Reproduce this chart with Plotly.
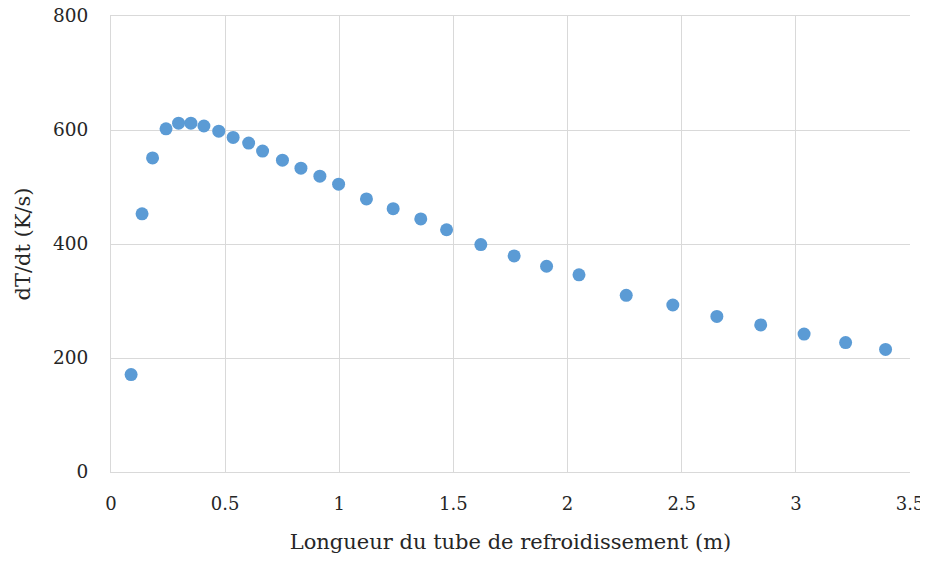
import plotly.graph_objects as go

longueur = [0.088, 0.136, 0.182, 0.241, 0.296, 0.350, 0.407, 0.472, 0.535, 0.603,
            0.664, 0.751, 0.832, 0.915, 0.997, 1.119, 1.236, 1.357, 1.470, 1.620,
            1.766, 1.908, 2.050, 2.257, 2.461, 2.654, 2.846, 3.036, 3.218, 3.393]
dTdt = [171, 453, 551, 602, 612, 612, 607, 598, 587, 577,
        563, 547, 533, 519, 505, 479, 462, 444, 425, 399,
        379, 361, 346, 310, 293, 273, 258, 242, 227, 215]

x_ticks = [0, 0.5, 1, 1.5, 2, 2.5, 3, 3.5]
x_labels = ["0", "0.5", "1", "1.5", "2", "2.5", "3", "3.5"]
y_ticks = [0, 200, 400, 600, 800]

font_family = "DejaVu Serif"

fig = go.Figure()
fig.add_trace(go.Scatter(
    x=longueur, y=dTdt, mode="markers",
    marker=dict(color="#5B9BD5", size=13, line=dict(width=0)),
    showlegend=False,
))

fig.update_layout(
    width=928, height=563,
    margin=dict(l=103, r=26, t=8, b=99),
    paper_bgcolor="white", plot_bgcolor="white",
    font=dict(family=font_family, color="#262626"),
)
fig.update_xaxes(
    range=[0, 3.5], tickvals=x_ticks, ticktext=x_labels, automargin=False,
    ticklabeloverflow="allow",
    showgrid=True, gridcolor="#d9d9d9", gridwidth=1,
    showline=True, linecolor="#d9d9d9", linewidth=1, mirror=True,
    zeroline=False, ticks="", tickfont=dict(size=18, family=font_family, color="#262626"),
    ticklabelstandoff=15,
    title=dict(text="Longueur du tube de refroidissement (m)",
               font=dict(size=21, family=font_family, color="#262626"), standoff=21),
)
fig.update_yaxes(
    range=[0, 800], tickvals=y_ticks, automargin=False,
    ticklabeloverflow="allow",
    showgrid=True, gridcolor="#d9d9d9", gridwidth=1,
    showline=True, linecolor="#d9d9d9", linewidth=1,
    zeroline=False, ticks="", tickfont=dict(size=18.5, family=font_family, color="#262626"),
    ticklabelstandoff=18,
    title=dict(text="dT/dt (K/s)",
               font=dict(size=21, family=font_family, color="#262626"), standoff=16),
)

fig.write_html("out.html")
